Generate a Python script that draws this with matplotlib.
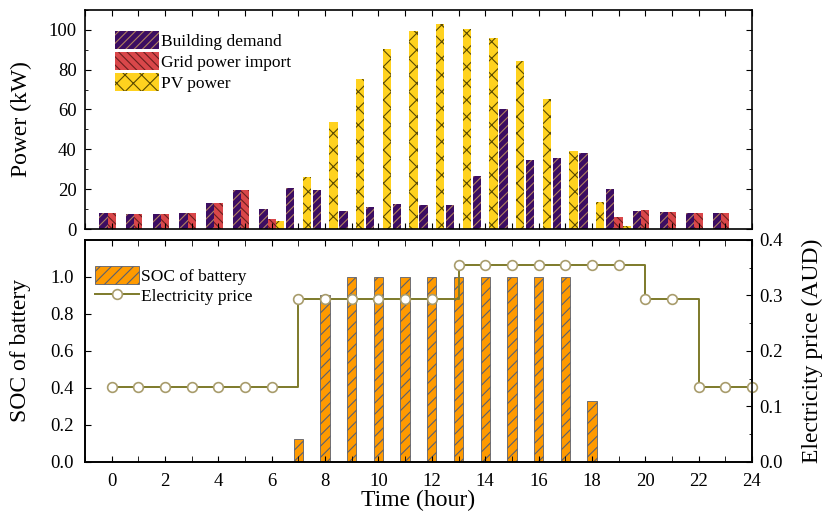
import numpy as np
import matplotlib
matplotlib.use('Agg')
import matplotlib.pyplot as plt
from matplotlib.ticker import MultipleLocator

plt.rcParams['font.family'] = ['Liberation Serif', 'DejaVu Serif']
plt.rcParams['hatch.linewidth'] = 0.8
plt.rcParams['xtick.direction'] = 'in'
plt.rcParams['ytick.direction'] = 'in'

# data
hours = np.arange(24)
demand = [7.9, 7.4, 7.4, 8, 13, 19.7, 10, 20.6, 19.7, 9.3, 11, 12.7,
          12.2, 12.2, 26.5, 60.3, 34.6, 35.6, 38.3, 20.3, 9.1, 8.8, 8, 8]
grid = [8, 7.4, 7.4, 8, 13, 19.7, 5, 0, 0, 0, 0, 0,
        0, 0, 0, 0, 0, 0, 0, 5.9, 9.6, 8.8, 8, 8]
pv = [0, 0, 0, 0, 0, 0, 4.2, 26, 53.5, 75.4, 90.1, 99.6,
      102.8, 100.6, 95.9, 84.4, 65.3, 39.1, 13.8, 1.5, 0, 0, 0, 0]

soc = [0, 0, 0, 0, 0, 0, 0, 0.125, 0.9, 1, 1, 1,
       1, 1, 1, 1, 1, 1, 0.33, 0, 0, 0, 0, 0]
price_hours = np.arange(25)
price = [0.135]*7 + [0.293]*6 + [0.355]*7 + [0.293]*2 + [0.135]*3

fig = plt.figure(figsize=(8.25, 5.16), dpi=100)
ax1 = fig.add_axes([0.103, 0.556, 0.8085, 0.425])
ax3 = fig.add_axes([0.103, 0.105, 0.8085, 0.430])

tick_fs = 13.5
label_fs = 17
leg_fs = 12.5

# top: power
w = 0.31
ax1.bar(hours - w, demand, w, color='#3c0d62', edgecolor='#b08060', hatch='////', lw=0, label='Building demand')
ax1.bar(hours, grid, w, color='#d9474a', edgecolor='#6b1e1e', hatch='\\\\\\\\', lw=0, label='Grid power import')
ax1.bar(hours + w, pv, w, color='#ffd21f', edgecolor='#5a4a00', hatch='xx', lw=0, label='PV power')
ax1.set_xlim(-1, 24)
ax1.set_ylim(0, 110)
ax1.set_ylabel('Power (kW)', fontsize=label_fs, labelpad=12)
ax1.yaxis.set_major_locator(MultipleLocator(20))
ax1.yaxis.set_minor_locator(MultipleLocator(10))
ax1.xaxis.set_major_locator(MultipleLocator(1))
ax1.tick_params(which='both', top=True, right=True, labelbottom=False, labelsize=tick_fs)
ax1.tick_params(which='major', length=4, pad=6)
ax1.tick_params(which='minor', length=2.5)
ax1.legend(loc='upper left', bbox_to_anchor=(0.03, 0.95), frameon=False, fontsize=leg_fs,
           handlelength=2.5, handleheight=1.2, labelspacing=0.12, handletextpad=0.15,
           borderaxespad=0.2)

# bottom: SOC and price
ax3.bar(hours, soc, 0.35, color='#ff9a00', edgecolor='#5a6070', hatch='///', lw=0.6, label='SOC of battery')
ax3.set_xlim(-1, 24)
ax3.set_ylim(0, 1.2)
ax3.set_xticks(np.arange(0, 25, 2))
ax3.xaxis.set_minor_locator(MultipleLocator(1))
ax3.set_yticks([0, 0.2, 0.4, 0.6, 0.8, 1.0])
ax3.set_xlabel('Time (hour)', fontsize=label_fs, labelpad=0)
ax3.set_ylabel('SOC of battery', fontsize=label_fs, labelpad=14)
ax3.tick_params(which='both', top=True, labelsize=tick_fs)
ax3.tick_params(which='major', length=4, pad=8)
ax3.tick_params(which='minor', length=4)

ax4 = ax3.twinx()
ax4.plot(price_hours, price, drawstyle='steps-post', color='#7d7a2a', lw=1.4,
         marker='o', markersize=7, markerfacecolor='white', markeredgecolor='#a89c6c',
         markeredgewidth=1.2, clip_on=False, label='Electricity price')
ax4.set_ylim(0, 0.4)
ax4.yaxis.set_major_locator(MultipleLocator(0.1))
ax4.yaxis.set_minor_locator(MultipleLocator(0.05))
ax4.tick_params(which='both', labelsize=tick_fs)
ax4.tick_params(which='major', length=4, pad=5)
ax4.tick_params(which='minor', length=2.5)
ax4.set_ylabel('Electricity price (AUD)', fontsize=label_fs, labelpad=14)

h1, l1 = ax3.get_legend_handles_labels()
h2, l2 = ax4.get_legend_handles_labels()
ax4.legend(h1 + h2, l1 + l2, loc='upper left', bbox_to_anchor=(0.0, 0.93), frameon=False,
           fontsize=leg_fs, handlelength=2.5, handleheight=1.2, labelspacing=0.12,
           handletextpad=0.15, borderaxespad=0.2)

for ax in (ax1, ax3, ax4):
    for s in ax.spines.values():
        s.set_linewidth(1.2)

fig.savefig('out.png', dpi=100)
